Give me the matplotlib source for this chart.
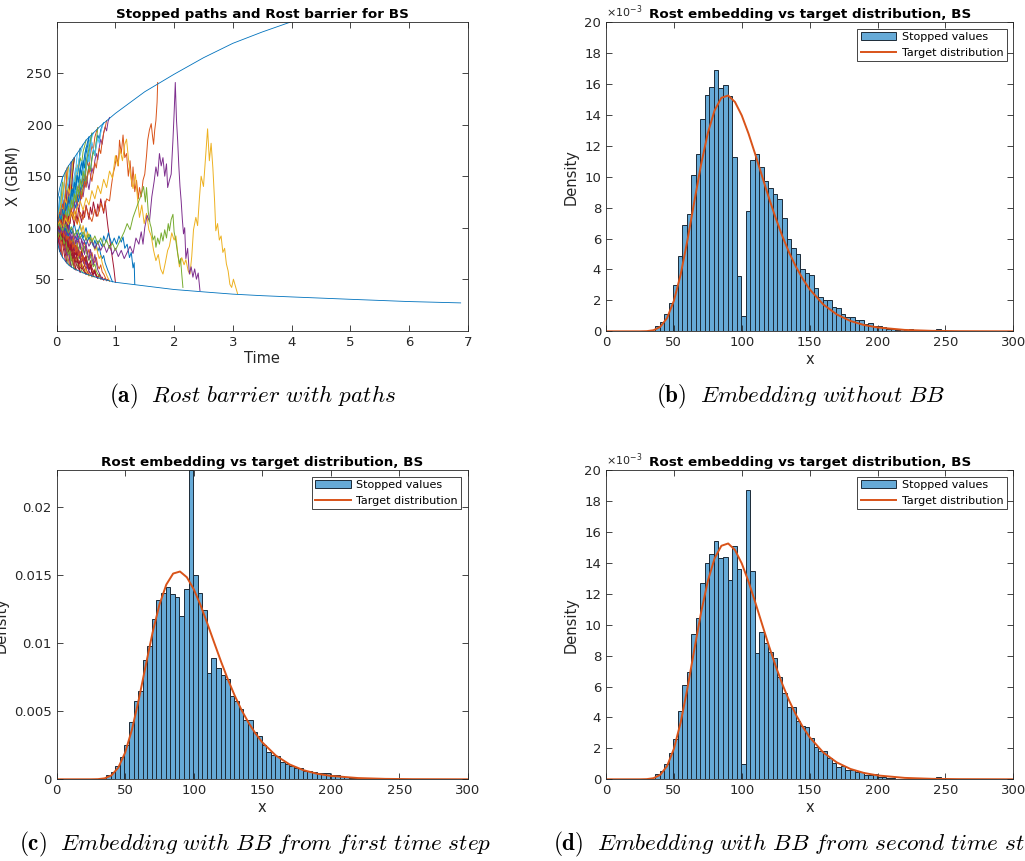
# -*- coding: utf-8 -*-
"""Rost barrier paths and embedding histograms (4 panels)"""

import matplotlib
matplotlib.use('Agg')
import matplotlib.pyplot as plt
from matplotlib.patches import Patch
from matplotlib.lines import Line2D

# MATLAB default colour order
ML_COLORS = ['#0072BD', '#D95319', '#EDB120', '#7E2F8E', '#77AC30', '#4DBEEE', '#A2142F']
AX_COLOR = '#262626'
BAR_FACE = '#66AAD7'

# ---------------- panel (a): barrier and stopped paths ----------------
barrier_t = [0, 0.01, 0.02, 0.05, 0.1, 0.2, 0.3, 0.5, 0.75, 1.0, 1.5, 2.0, 2.5, 3.0, 3.5, 4.0, 5.0, 6.0, 6.88]
barrier_upper = [118, 126, 129, 138, 149, 160, 168, 185, 199, 211, 232, 249, 265, 279, 290, 300, 318, 335, 348]
barrier_lower = [90, 87, 84, 77, 71, 64, 60, 55, 50.5, 47, 43.5, 40, 37.7, 35.5, 34, 32.8, 30.5, 28.3, 27]

# paths in the dense cluster, sampled every 0.025 time units, with MATLAB colour index
cluster_dt = 0.025
cluster_paths = [
    ([100, 112, 121, 133, 149], 5),
    ([100, 108, 103, 117, 129, 141, 155], 0),
    ([100, 95, 104, 113, 109, 124, 138, 147, 160], 4),
    ([100, 107, 99, 94, 104, 116, 111, 128, 140, 151, 164], 5),
    ([100, 92, 99, 108, 103, 115, 126, 120, 134, 145, 139, 155, 168], 0),
    ([100, 104, 96, 90, 98, 107, 102, 114, 123, 118, 131, 140, 136, 150, 161, 157, 177], 2),
    ([100, 97, 106, 113, 105, 98, 109, 120, 114, 127, 135, 129, 142, 151, 146, 160, 168, 162, 174, 179,
      185], 4),
    ([100, 105, 111, 103, 96, 104, 112, 121, 115, 109, 120, 131, 126, 138, 147, 141, 152, 163, 157, 170,
      178, 172, 183, 187, 191], 5),
    ([100, 96, 89, 95, 103, 98, 92, 101, 110, 104, 116, 124, 119, 112, 123, 133, 128, 140, 149, 143, 156,
      164, 158, 171, 180, 176, 188, 193, 197], 1),
    ([100, 103, 97, 108, 114, 107, 101, 110, 118, 112, 124, 131, 125, 119, 128, 137, 132, 145, 153, 147,
      140, 150, 160, 155, 168, 176, 171, 183, 190, 186, 195, 199, 202], 0),
    ([100, 98, 105, 99, 93, 101, 110, 104, 97, 106, 116, 111, 121, 129, 123, 116, 125, 135, 130, 141, 150,
      144, 137, 148, 158, 153, 165, 172, 166, 178, 186, 181, 192, 198, 194, 203, 207], 3),
    ([100, 92, 84, 74], 6),
    ([100, 94, 97, 86, 71], 1),
    ([100, 96, 90, 93, 84, 76, 67], 6),
    ([100, 103, 95, 89, 92, 83, 78, 71, 64], 4),
    ([100, 95, 99, 91, 86, 89, 80, 75, 78, 69, 62], 6),
    ([100, 104, 98, 93, 97, 90, 84, 88, 79, 73, 76, 67, 60], 1),
    ([100, 97, 102, 95, 90, 94, 87, 83, 88, 81, 76, 79, 71, 67, 70, 62, 57], 6),
    ([100, 103, 97, 92, 96, 89, 94, 99, 91, 86, 90, 83, 78, 82, 74, 70, 73, 65, 62, 59, 55], 4),
    ([100, 96, 101, 107, 99, 94, 98, 90, 86, 91, 84, 80, 85, 77, 73, 78, 70, 66, 71, 63, 60, 64, 57, 55,
      53], 6),
    ([100, 105, 98, 93, 99, 104, 96, 91, 95, 88, 84, 89, 81, 77, 82, 75, 71, 76, 69, 65, 70, 62, 59, 63,
      56, 54, 57, 52, 51], 3),
    ([100, 97, 92, 98, 103, 96, 90, 94, 87, 83, 88, 92, 85, 80, 84, 77, 73, 78, 71, 67, 72, 65, 61, 66,
      59, 56, 60, 54, 52, 55, 51, 50, 49.5], 2),
    ([100, 104, 109, 102, 97, 101, 94, 89, 93, 86, 82, 87, 80, 76, 81, 74, 70, 75, 68, 64, 69, 62, 59, 64,
      57, 55, 59, 53, 51, 55, 50, 52, 49, 51, 48.5, 50, 48], 6),
    ([100, 93, 97, 90, 85, 89, 81, 77, 80, 72, 68, 71, 64, 61, 58.5], 1),
    ([100, 102, 96, 91, 95, 88, 83, 87, 80, 76, 79, 72, 68, 71, 64, 61, 63, 58, 56], 4),
    ([100, 98, 93, 97, 91, 86, 90, 83, 79, 83, 76, 72, 75, 69, 66, 69, 62, 60, 63, 57, 55, 57, 54], 6),
    ([100, 95, 99, 94, 88, 92, 86, 81, 85, 78, 74, 78, 71, 68, 72, 65, 62, 66, 59, 57, 60, 55, 53, 56, 52,
      54, 52], 2),
    ([100, 112, 130], 0),
    ([100, 109, 124, 138], 5),
    ([100, 96, 110, 127, 144], 4),
    ([100, 104, 98, 111, 124, 139, 155], 5),
    ([100, 94, 101, 108, 103, 116, 128, 121, 137, 146, 155, 166], 0),
    ([100, 103, 110, 118, 113, 125, 133, 145, 160], 2),
    ([100, 97, 92, 99, 107, 102, 113, 120, 116, 128, 137, 131, 144, 156, 172], 5),
    ([100, 106, 113, 108, 117, 125, 119, 131, 140, 135, 147, 157, 168], 4),
    ([100, 98, 106, 101, 95, 104, 112, 107, 118, 126, 121, 134, 143, 139, 152, 160, 177], 0),
    ([100, 90, 77], 6),
    ([100, 95, 88, 80, 71], 3),
    ([100, 102, 94, 87, 91, 82, 74, 65.5], 6),
    ([100, 93, 89, 95, 87, 80, 84, 75, 69, 63], 1),
    ([100, 98, 91, 96, 89, 83, 87, 79, 74, 77, 70, 66, 60], 6),
    ([100, 106, 99, 94, 98, 90, 85, 88, 80, 76, 62], 4),
    ([100, 97, 103, 96, 90, 94, 86, 81, 85, 78, 73, 76, 69, 59], 6),
    ([100, 108, 116, 124, 133, 143, 155], 2),
    ([100, 101, 93, 84, 71], 1),
    ([100, 105, 97, 90, 94, 85, 79, 73, 76, 67, 62], 3),
    ([100, 99, 107, 115, 110, 121, 130, 139, 147, 158, 164], 5),
    ([100, 104, 96, 101, 93, 98, 90, 95, 86, 91, 83, 87, 79, 83, 75, 79, 72, 75, 68, 71, 64, 66, 60, 62,
      57, 52.5], 6),
    ([100, 106, 112, 107, 115, 121, 116, 124, 131, 126, 120, 127, 134, 129, 137, 143, 138, 132, 140, 148,
      144, 153, 160, 155, 166, 174, 170, 184, 197], 4),
    ([100, 95, 103, 110, 104, 114, 121, 116, 109, 118, 126, 121, 130, 137, 131, 125, 134, 143, 139, 150,
      158, 165, 172, 181, 191], 0),
    ([100, 95, 90, 96, 89, 84, 90, 95, 88, 83, 87, 92, 85, 79, 84, 89, 82, 77, 81, 86, 80, 74, 79, 72, 76,
      69, 66, 71, 63, 60, 64, 57, 55, 52, 48.7], 1),
    ([100, 104, 97, 102, 108, 101, 95, 100, 106, 99, 94, 99, 104, 97, 92, 98, 103, 96, 90, 95, 100, 93,
      88, 93, 86, 82, 88, 83, 77, 81, 74, 70, 73, 66, 62, 58, 55, 51, 47.5], 0),
    ([100, 108, 103, 113, 120, 114, 126, 133, 127, 140, 147, 141, 135, 144, 152, 146, 158, 165, 159, 152,
      161, 170, 164, 176, 183, 177, 170, 179, 187, 182, 192, 198, 202], 5),
    ([100, 106, 101, 112, 119, 113, 125, 132, 126, 138, 145, 140, 151, 158, 153, 165, 171, 176, 181], 5),
    ([100, 94, 98, 91, 87, 93, 86, 82, 88, 83, 78, 84, 79, 74, 80, 75, 71, 77, 72, 68, 73, 66, 63, 68, 61,
      58, 56, 54, 51], 6),
    ([100, 103, 97, 93, 99, 92, 88, 94, 89, 85, 91, 86, 82, 88, 83, 79, 85, 80, 76, 82, 77, 72, 68, 73,
      66, 62, 65, 58, 55, 53, 50.5], 4),
    ([100, 106, 111, 105, 113, 119, 112, 106, 114, 121, 115, 108, 116, 110, 103, 109, 102, 96, 102, 95,
      90, 96, 89, 84, 90, 83, 78, 82, 75, 70, 73, 66, 61, 58, 54, 51, 48], 2),
    ([100, 97, 104, 99, 108, 115, 109, 119, 126, 120, 131, 138, 132, 143, 150, 145, 156, 163, 158, 170,
      177, 183, 188], 0),
    ([100, 103, 109, 104, 112, 118, 112, 121, 128, 122, 115, 123, 131, 125, 134, 141, 135, 128, 137, 145,
      139, 150, 157, 151, 145, 155, 163, 158, 170, 177, 172, 184, 192, 197, 204], 1),
    ([100, 96, 101, 94, 89, 95, 88, 84, 90, 85, 80, 86, 81, 76, 81, 74, 70, 75, 68, 64, 67, 61, 58, 56,
      53], 3),
    ([100, 97, 91, 95, 88, 83, 87, 80, 76, 81, 74, 70, 73, 66, 62, 60, 57], 6),
    ([100, 104, 98, 93, 97, 90, 85, 89, 82, 78, 83, 76, 72, 76, 69, 65, 68, 62, 59, 57, 55], 6),
    ([100, 110, 104, 118, 112, 127, 121, 136, 131, 146, 164], 3),
    ([100, 93, 101, 111, 105, 120, 114, 130, 125, 142, 137, 155, 168], 6),
    ([100, 107, 115, 109, 123, 117, 131, 158], 1),
    ([100, 99, 110, 105, 119, 113, 128, 122, 138, 133, 150, 166], 2),
    ([100, 91, 97, 88, 93, 84, 89, 80, 74, 78, 70, 64, 60], 4),
    ([100, 104, 95, 99, 90, 95, 86, 91, 82, 87, 78, 83, 74, 78, 70, 64, 57], 6),
    ([100, 96, 103, 94, 100, 91, 97, 88, 93, 84, 89, 80, 85, 76, 81, 72, 77, 68, 73, 65, 60, 57, 54], 1),
    ([100, 108, 100, 112, 104, 117, 109, 122, 114, 128, 120, 134, 126, 141, 133, 148, 140, 156, 148, 164,
      156, 172, 164, 180, 188, 192], 5),
    ([100, 102, 113, 106, 118, 111, 124, 117, 130, 123, 137, 130, 144, 137, 151, 144, 158, 151, 165, 158,
      172, 179, 188], 0),
    ([100, 95, 107, 99, 111, 103, 116, 108, 121, 113, 127, 119, 133, 125, 140, 132, 147, 139, 155, 147,
      163, 170, 177, 185, 192], 4),
    ([100, 97, 108, 102, 95, 107, 99, 92, 103, 96, 88, 99, 91, 84, 94, 86, 79, 89, 81, 74, 84, 76, 69, 79,
      71, 64, 74, 66, 59, 56, 53, 50], 3),
    ([100, 103, 96, 108, 101, 113, 106, 99, 111, 104, 116, 109, 102, 114, 107, 119, 112, 105, 117, 110,
      122, 115, 108, 120, 113, 125, 118, 111, 123, 116, 128, 121, 114, 126, 112, 100, 90, 80, 70, 60,
      47], 6),
]

# long paths (time, value)
path_blue = [(0, 100), (0.05, 96), (0.1, 104), (0.15, 98), (0.2, 92), (0.25, 99), (0.3, 93), (0.35, 88),
             (0.4, 95), (0.45, 89), (0.5, 84), (0.55, 91), (0.6, 86), (0.65, 80), (0.7, 87), (0.73, 87),
             (0.77, 82), (0.8, 92), (0.84, 86), (0.88, 95), (0.9, 91), (0.94, 84), (0.98, 90), (1.02, 84),
             (1.06, 92), (1.1, 86), (1.13, 91), (1.16, 80), (1.2, 84), (1.24, 71), (1.27, 76), (1.3, 61),
             (1.32, 66), (1.33, 45)]
path_orange = [(0, 100), (0.05, 108), (0.1, 102), (0.15, 112), (0.2, 106), (0.25, 117), (0.3, 110),
               (0.35, 104), (0.4, 115), (0.45, 108), (0.5, 120), (0.55, 112), (0.6, 106), (0.65, 118),
               (0.7, 111), (0.75, 124), (0.8, 116), (0.85, 128), (0.9, 126), (0.93, 140), (0.96, 152),
               (0.99, 159), (1.02, 170), (1.05, 160), (1.07, 185), (1.1, 172), (1.13, 190), (1.16, 168),
               (1.19, 172), (1.22, 150), (1.25, 165), (1.28, 140), (1.3, 159), (1.33, 135), (1.36, 146),
               (1.39, 128), (1.41, 139), (1.44, 130), (1.47, 146), (1.5, 152), (1.53, 170), (1.55, 185),
               (1.58, 195), (1.61, 201), (1.63, 190), (1.65, 181), (1.67, 195), (1.69, 204), (1.71, 222),
               (1.72, 241)]
path_yellow = [(0, 100), (0.05, 106), (0.1, 98), (0.15, 109), (0.2, 103), (0.25, 115), (0.3, 108),
               (0.35, 119), (0.4, 126), (0.45, 117), (0.5, 129), (0.55, 122), (0.6, 136), (0.65, 128),
               (0.7, 141), (0.75, 133), (0.8, 147), (0.85, 139), (0.9, 155), (0.95, 148), (1.0, 170),
               (1.04, 160), (1.08, 176), (1.12, 165), (1.16, 181), (1.19, 186), (1.22, 168), (1.26, 150),
               (1.3, 138), (1.34, 152), (1.38, 126), (1.41, 110), (1.45, 122), (1.49, 104), (1.53, 114),
               (1.57, 98), (1.61, 92), (1.65, 78), (1.69, 68), (1.73, 74), (1.77, 60), (1.81, 55),
               (1.85, 66), (1.89, 78), (1.92, 82), (1.96, 95), (2.0, 88), (2.03, 92), (2.06, 76),
               (2.09, 62), (2.13, 71), (2.17, 64), (2.2, 69), (2.24, 58), (2.27, 55), (2.3, 72),
               (2.33, 98), (2.37, 110), (2.4, 102), (2.43, 128), (2.46, 150), (2.5, 140), (2.54, 172),
               (2.57, 196), (2.6, 165), (2.63, 182), (2.66, 158), (2.69, 125), (2.71, 97), (2.74, 104),
               (2.77, 88), (2.8, 92), (2.83, 76), (2.86, 80), (2.89, 65), (2.92, 58), (2.95, 45),
               (2.98, 42), (3.01, 50), (3.04, 44), (3.08, 36)]
path_purple = [(0, 100), (0.05, 95), (0.1, 101), (0.15, 93), (0.2, 97), (0.25, 88), (0.3, 94), (0.35, 86),
               (0.4, 91), (0.45, 84), (0.5, 90), (0.55, 82), (0.6, 88), (0.65, 80), (0.7, 86), (0.75, 78),
               (0.8, 84), (0.85, 76), (0.9, 83), (0.95, 74), (1.0, 80), (1.05, 72), (1.1, 78), (1.15, 70),
               (1.2, 76), (1.25, 82), (1.3, 75), (1.35, 90), (1.4, 84), (1.44, 96), (1.47, 84), (1.5, 100),
               (1.54, 112), (1.58, 106), (1.62, 130), (1.66, 145), (1.69, 159), (1.72, 150), (1.75, 172),
               (1.78, 160), (1.81, 168), (1.84, 150), (1.87, 162), (1.89, 139), (1.92, 146), (1.95, 152),
               (1.98, 185), (2.0, 211), (2.02, 241), (2.04, 205), (2.06, 185), (2.08, 160), (2.1, 140),
               (2.12, 126), (2.14, 108), (2.16, 94), (2.18, 100), (2.2, 70), (2.23, 80), (2.26, 55),
               (2.29, 62), (2.32, 52), (2.35, 60), (2.38, 50), (2.41, 56), (2.44, 39)]
path_green = [(0, 100), (0.05, 104), (0.1, 97), (0.15, 103), (0.2, 95), (0.25, 101), (0.3, 92), (0.35, 98),
              (0.4, 90), (0.45, 96), (0.5, 88), (0.55, 94), (0.6, 86), (0.65, 92), (0.7, 84), (0.75, 90),
              (0.8, 82), (0.85, 88), (0.9, 80), (0.95, 85), (1.0, 78), (1.05, 84), (1.1, 90), (1.15, 96),
              (1.2, 104), (1.25, 98), (1.3, 110), (1.35, 118), (1.4, 126), (1.44, 132), (1.48, 140),
              (1.51, 125), (1.53, 139), (1.56, 115), (1.59, 104), (1.61, 100), (1.64, 88), (1.67, 92),
              (1.69, 81), (1.72, 90), (1.75, 84), (1.78, 95), (1.81, 87), (1.84, 98), (1.87, 90),
              (1.9, 104), (1.92, 97), (1.95, 108), (1.98, 113), (2.0, 96), (2.03, 87), (2.06, 75),
              (2.09, 65), (2.11, 70), (2.13, 55), (2.15, 42)]

# ---------------- panels (b)-(d): histograms ----------------
bin_start = 36.1
bin_width = 3.34
# densities in units of 1e-3
hist_no_bb = [0.37, 0.62, 1.1, 1.85, 3.0, 4.9, 6.85, 7.6, 10.1, 11.45, 13.75, 15.25, 15.8, 16.9, 15.75,
              15.95, 15.2, 11.25, 3.58, 1.0, 7.75, 11.1, 11.45, 10.6, 9.75, 9.3, 8.85, 8.55, 7.35, 6.0,
              5.4, 5.0, 4.05, 3.8, 3.65, 2.8, 2.25, 2.05, 2.05, 1.55, 1.5, 1.1, 0.92, 0.95, 0.72, 0.72,
              0.5, 0.56, 0.32, 0.32, 0.3, 0.17, 0.13, 0.08, 0.17, 0.08, 0.12, 0.04, 0.04, 0.02, 0.02,
              0.02, 0.14, 0.03]
hist_bb_first = [0.3, 0.54, 0.98, 1.6, 2.52, 4.2, 5.78, 6.45, 8.77, 9.8, 11.74, 13.16, 13.65, 14.14, 13.6,
                 13.36, 11.96, 14.0, 22.7, 15.0, 13.65, 12.43, 7.8, 8.87, 8.14, 7.65, 7.35, 6.13, 5.78,
                 5.15, 4.36, 4.36, 3.46, 3.21, 2.52, 2.0, 1.8, 1.72, 1.25, 1.15, 1.0, 0.81, 0.81, 0.59,
                 0.59, 0.54, 0.49, 0.47, 0.49, 0.29, 0.29, 0.25, 0.2, 0.1, 0.08, 0.05, 0.05, 0.03, 0.02,
                 0.02, 0.02, 0.02, 0.12, 0.02]
hist_bb_second = [0.34, 0.54, 1.0, 1.72, 2.63, 4.42, 6.12, 6.96, 9.37, 10.4, 12.67, 13.97, 14.59, 15.39,
                  14.29, 14.4, 12.89, 15.09, 13.58, 0.99, 18.7, 13.45, 8.15, 9.55, 8.8, 8.25, 7.82, 6.64,
                  5.56, 4.7, 4.7, 3.75, 3.43, 3.36, 2.7, 2.06, 1.82, 1.8, 1.37, 1.05, 0.8, 0.88, 0.62,
                  0.62, 0.5, 0.47, 0.28, 0.28, 0.32, 0.17, 0.17, 0.1, 0.08, 0.05, 0.05, 0.04, 0.03, 0.02,
                  0.02, 0.02, 0.02, 0.02, 0.12, 0.02]

# target (lognormal) density, units of 1e-3
target_x = [0, 20, 25, 30, 35, 40, 45, 50, 55, 60, 65, 70, 75, 80, 85, 90, 95, 100, 105, 110, 115, 120,
            125, 130, 135, 140, 145, 150, 160, 170, 180, 190, 200, 220, 240, 260, 300]
target_y = [0, 0, 0, 0.01, 0.07, 0.29, 0.86, 1.97, 3.67, 5.89, 8.36, 10.77, 12.82, 14.29, 15.10, 15.25,
            14.83, 13.96, 12.78, 11.43, 10.02, 8.63, 7.32, 6.13, 5.07, 4.16, 3.38, 2.72, 1.74, 1.09, 0.67,
            0.41, 0.25, 0.09, 0.03, 0.01, 0]

plt.rcParams['font.family'] = 'DejaVu Sans'
plt.rcParams['mathtext.fontset'] = 'cm'


def style_axes(ax):
    for sp in ax.spines.values():
        sp.set_color(AX_COLOR)
        sp.set_linewidth(0.6)
    ax.tick_params(direction='in', top=True, right=True, length=4, width=0.6,
                   colors=AX_COLOR, labelsize=9.5)


def draw_hist(ax, heights, sci):
    lefts = [bin_start + i * bin_width for i in range(len(heights))]
    ax.bar(lefts, [h * 1e-3 for h in heights], width=bin_width, align='edge',
           facecolor=BAR_FACE, edgecolor='#1c2a38', linewidth=0.7)
    ax.plot(target_x, [v * 1e-3 for v in target_y], color=ML_COLORS[1], linewidth=1.4)
    ax.set_xlim(0, 300)
    ax.set_xticks(range(0, 301, 50))
    ax.set_title('Rost embedding vs target distribution, BS', fontsize=9.7, fontweight='bold', pad=3)
    ax.set_xlabel('x', fontsize=10.5, color=AX_COLOR, labelpad=2)
    ax.set_ylabel('Density', fontsize=10.5, color=AX_COLOR, labelpad=4)
    if sci:
        ax.set_ylim(0, 0.020)
        ticks = [i * 0.002 for i in range(11)]
        ax.set_yticks(ticks)
        ax.set_yticklabels([str(2 * i) for i in range(11)])
        ax.text(0.0, 1.006, r'$\times10^{-3}$', transform=ax.transAxes, fontsize=8,
                color=AX_COLOR, ha='left', va='bottom', math_fontfamily='dejavusans')
    else:
        ax.set_ylim(0, 0.0227)
        ax.set_yticks([0, 0.005, 0.01, 0.015, 0.02])
        ax.set_yticklabels(['0', '0.005', '0.01', '0.015', '0.02'])
    handles = [Patch(facecolor=BAR_FACE, edgecolor='#1c2a38', linewidth=0.7),
               Line2D([0], [0], color=ML_COLORS[1], linewidth=1.4)]
    leg = ax.legend(handles, ['Stopped values', 'Target distribution'], loc='upper right',
                    fontsize=8, fancybox=False, framealpha=1, edgecolor=AX_COLOR,
                    borderpad=0.3, handlelength=3.2, handletextpad=0.5, borderaxespad=0.6)
    leg.get_frame().set_linewidth(0.6)
    style_axes(ax)


fig = plt.figure(figsize=(10.25, 8.61), dpi=100)
ax_a = fig.add_axes([0.0553, 0.6159, 0.4010, 0.3589])
ax_b = fig.add_axes([0.5912, 0.6152, 0.3974, 0.3592])
ax_c = fig.add_axes([0.0553, 0.0949, 0.4010, 0.3592])
ax_d = fig.add_axes([0.5912, 0.0949, 0.3974, 0.3592])

# panel (a)
for vals, ci in cluster_paths:
    ts = [i * cluster_dt for i in range(len(vals))]
    ax_a.plot(ts, vals, color=ML_COLORS[ci], linewidth=0.7)
for path, ci in [(path_blue, 0), (path_orange, 1), (path_yellow, 2), (path_purple, 3), (path_green, 4)]:
    ax_a.plot([p[0] for p in path], [p[1] for p in path], color=ML_COLORS[ci], linewidth=0.7)
ax_a.plot(barrier_t, barrier_upper, color=ML_COLORS[0], linewidth=0.6)
ax_a.plot(barrier_t, barrier_lower, color=ML_COLORS[0], linewidth=0.6)
ax_a.set_xlim(0, 7)
ax_a.set_ylim(0, 300)
ax_a.set_yticks([50, 100, 150, 200, 250])
ax_a.set_xticks(range(8))
ax_a.set_title('Stopped paths and Rost barrier for BS', fontsize=9.7, fontweight='bold', pad=3)
ax_a.set_xlabel('Time', fontsize=10.5, color=AX_COLOR, labelpad=2)
ax_a.set_ylabel('X (GBM)', fontsize=10.5, color=AX_COLOR, labelpad=4)
style_axes(ax_a)

draw_hist(ax_b, hist_no_bb, True)
draw_hist(ax_c, hist_bb_first, False)
draw_hist(ax_d, hist_bb_second, True)

# sub-captions
cap_kw = dict(fontsize=16.7, va='center')
fig.text(0.2463, 0.539, r'$\mathbf{(a)}\ \ \mathit{Rost\ barrier\ with\ paths}$', ha='center', **cap_kw)
fig.text(0.7815, 0.539, r'$\mathbf{(b)}\ \ \mathit{Embedding\ without\ BB}$', ha='center', **cap_kw)
fig.text(0.2488, 0.019, r'$\mathbf{(c)}\ \ \mathit{Embedding\ with\ BB\ from\ first\ time\ step}$',
         ha='center', **cap_kw)
fig.text(0.5395, 0.019, r'$\mathbf{(d)}\ \ \mathit{Embedding\ with\ BB\ from\ second\ time\ step}$',
         ha='left', **cap_kw)

fig.savefig('out.png', dpi=100, facecolor='white')
